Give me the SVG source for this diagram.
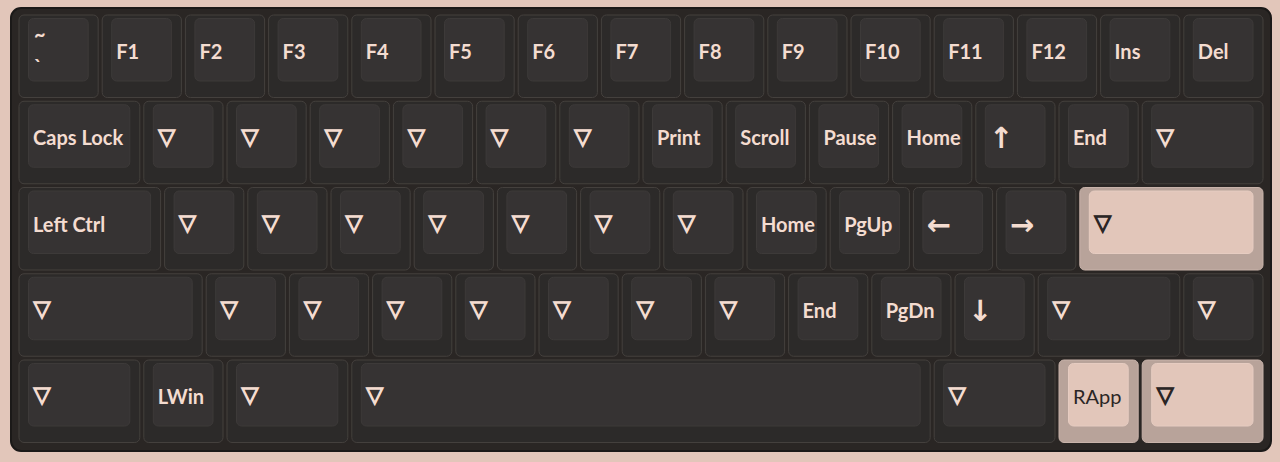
<svg xmlns="http://www.w3.org/2000/svg" width="1280" height="462" viewBox="0 0 1280 462">
<style>
.base{fill:#2c2a29;stroke:#44403d;stroke-width:1}
.top{fill:#363333;stroke:#3d3a39;stroke-width:1}
.pbase{fill:#b8a39a;stroke:#c8b3aa;stroke-width:1}
.ptop{fill:#e2c6ba;stroke:#e6ccc1;stroke-width:1}
.lb{font-family:Lato,"Open Sans",sans-serif;font-weight:700;font-size:20px;fill:#f4dcd0}
.tr{font-family:"DejaVu Sans",sans-serif;font-weight:700;font-size:22px;fill:#f4dcd0;stroke:#f4dcd0;stroke-width:1.3}
.ar{font-family:"Noto Sans","DejaVu Sans",sans-serif;font-weight:700;font-size:29px;fill:#f4dcd0}
.dk{fill:#2a2525}
.tr.dk{stroke:#2a2525}
</style>
<rect x="0" y="0" width="1280" height="462" fill="#e2c6ba"/>
<rect id="case" x="11" y="8" width="1260" height="443" rx="10" fill="#2a2624" stroke="#1b1918" stroke-width="2"/>
<g id="row1">
<g id="k-tilde"><rect class="base" x="19" y="15" width="79.2" height="82.5" rx="5"/><rect class="top" x="28.5" y="18.5" width="59.7" height="62.5" rx="5"/><text class="lb" x="34" y="42">~</text><text class="lb" x="34" y="74">`</text></g>
<g id="k-f1"><rect class="base" x="102.2" y="15" width="79.2" height="82.5" rx="5"/><rect class="top" x="111.7" y="18.5" width="59.7" height="62.5" rx="5"/><text class="lb" x="116.2" y="59">F1</text></g>
<g id="k-f2"><rect class="base" x="185.4" y="15" width="79.2" height="82.5" rx="5"/><rect class="top" x="194.9" y="18.5" width="59.7" height="62.5" rx="5"/><text class="lb" x="199.4" y="59">F2</text></g>
<g id="k-f3"><rect class="base" x="268.6" y="15" width="79.2" height="82.5" rx="5"/><rect class="top" x="278.1" y="18.5" width="59.7" height="62.5" rx="5"/><text class="lb" x="282.6" y="59">F3</text></g>
<g id="k-f4"><rect class="base" x="351.8" y="15" width="79.2" height="82.5" rx="5"/><rect class="top" x="361.3" y="18.5" width="59.7" height="62.5" rx="5"/><text class="lb" x="365.8" y="59">F4</text></g>
<g id="k-f5"><rect class="base" x="435" y="15" width="79.2" height="82.5" rx="5"/><rect class="top" x="444.5" y="18.5" width="59.7" height="62.5" rx="5"/><text class="lb" x="449" y="59">F5</text></g>
<g id="k-f6"><rect class="base" x="518.2" y="15" width="79.2" height="82.5" rx="5"/><rect class="top" x="527.7" y="18.5" width="59.7" height="62.5" rx="5"/><text class="lb" x="532.2" y="59">F6</text></g>
<g id="k-f7"><rect class="base" x="601.4" y="15" width="79.2" height="82.5" rx="5"/><rect class="top" x="610.9" y="18.5" width="59.7" height="62.5" rx="5"/><text class="lb" x="615.4" y="59">F7</text></g>
<g id="k-f8"><rect class="base" x="684.6" y="15" width="79.2" height="82.5" rx="5"/><rect class="top" x="694.1" y="18.5" width="59.7" height="62.5" rx="5"/><text class="lb" x="698.6" y="59">F8</text></g>
<g id="k-f9"><rect class="base" x="767.8" y="15" width="79.2" height="82.5" rx="5"/><rect class="top" x="777.3" y="18.5" width="59.7" height="62.5" rx="5"/><text class="lb" x="781.8" y="59">F9</text></g>
<g id="k-f10"><rect class="base" x="851" y="15" width="79.2" height="82.5" rx="5"/><rect class="top" x="860.5" y="18.5" width="59.7" height="62.5" rx="5"/><text class="lb" x="865" y="59">F10</text></g>
<g id="k-f11"><rect class="base" x="934.2" y="15" width="79.2" height="82.5" rx="5"/><rect class="top" x="943.7" y="18.5" width="59.7" height="62.5" rx="5"/><text class="lb" x="948.2" y="59">F11</text></g>
<g id="k-f12"><rect class="base" x="1017.4" y="15" width="79.2" height="82.5" rx="5"/><rect class="top" x="1026.9" y="18.5" width="59.7" height="62.5" rx="5"/><text class="lb" x="1031.4" y="59">F12</text></g>
<g id="k-ins"><rect class="base" x="1100.6" y="15" width="79.2" height="82.5" rx="5"/><rect class="top" x="1110.1" y="18.5" width="59.7" height="62.5" rx="5"/><text class="lb" x="1114.6" y="59">Ins</text></g>
<g id="k-del"><rect class="base" x="1183.8" y="15" width="79.2" height="82.5" rx="5"/><rect class="top" x="1193.3" y="18.5" width="59.7" height="62.5" rx="5"/><text class="lb" x="1197.8" y="59">Del</text></g>
</g>
<g id="row2">
<g id="k-caps"><rect class="base" x="19" y="101.25" width="120.8" height="82.5" rx="5"/><rect class="top" x="28.5" y="104.75" width="101.3" height="62.5" rx="5"/><text class="lb" x="33" y="145.25">Caps Lock</text></g>
<g id="k-r2-1"><rect class="base" x="143.8" y="101.25" width="79.2" height="82.5" rx="5"/><rect class="top" x="153.3" y="104.75" width="59.7" height="62.5" rx="5"/><text class="tr" x="158.3" y="143.5">▽</text></g>
<g id="k-r2-2"><rect class="base" x="227" y="101.25" width="79.2" height="82.5" rx="5"/><rect class="top" x="236.5" y="104.75" width="59.7" height="62.5" rx="5"/><text class="tr" x="241.5" y="143.5">▽</text></g>
<g id="k-r2-3"><rect class="base" x="310.2" y="101.25" width="79.2" height="82.5" rx="5"/><rect class="top" x="319.7" y="104.75" width="59.7" height="62.5" rx="5"/><text class="tr" x="324.7" y="143.5">▽</text></g>
<g id="k-r2-4"><rect class="base" x="393.4" y="101.25" width="79.2" height="82.5" rx="5"/><rect class="top" x="402.9" y="104.75" width="59.7" height="62.5" rx="5"/><text class="tr" x="407.9" y="143.5">▽</text></g>
<g id="k-r2-5"><rect class="base" x="476.6" y="101.25" width="79.2" height="82.5" rx="5"/><rect class="top" x="486.1" y="104.75" width="59.7" height="62.5" rx="5"/><text class="tr" x="491.1" y="143.5">▽</text></g>
<g id="k-r2-6"><rect class="base" x="559.8" y="101.25" width="79.2" height="82.5" rx="5"/><rect class="top" x="569.3" y="104.75" width="59.7" height="62.5" rx="5"/><text class="tr" x="574.3" y="143.5">▽</text></g>
<g id="k-print"><rect class="base" x="643" y="101.25" width="79.2" height="82.5" rx="5"/><rect class="top" x="652.5" y="104.75" width="59.7" height="62.5" rx="5"/><text class="lb" x="657" y="145.25">Print</text></g>
<g id="k-scroll"><rect class="base" x="726.2" y="101.25" width="79.2" height="82.5" rx="5"/><rect class="top" x="735.7" y="104.75" width="59.7" height="62.5" rx="5"/><text class="lb" x="740.2" y="145.25">Scroll</text></g>
<g id="k-pause"><rect class="base" x="809.4" y="101.25" width="79.2" height="82.5" rx="5"/><rect class="top" x="818.9" y="104.75" width="59.7" height="62.5" rx="5"/><text class="lb" x="823.4" y="145.25">Pause</text></g>
<g id="k-home1"><rect class="base" x="892.6" y="101.25" width="79.2" height="82.5" rx="5"/><rect class="top" x="902.1" y="104.75" width="59.7" height="62.5" rx="5"/><text class="lb" x="906.6" y="145.25">Home</text></g>
<g id="k-up"><rect class="base" x="975.8" y="101.25" width="79.2" height="82.5" rx="5"/><rect class="top" x="985.3" y="104.75" width="59.7" height="62.5" rx="5"/><text class="ar" x="989" y="148">↑</text></g>
<g id="k-end1"><rect class="base" x="1059" y="101.25" width="79.2" height="82.5" rx="5"/><rect class="top" x="1068.5" y="104.75" width="59.7" height="62.5" rx="5"/><text class="lb" x="1073" y="145.25">End</text></g>
<g id="k-r2-7"><rect class="base" x="1142.2" y="101.25" width="120.8" height="82.5" rx="5"/><rect class="top" x="1151.7" y="104.75" width="101.3" height="62.5" rx="5"/><text class="tr" x="1156.7" y="143.5">▽</text></g>
</g>
<g id="row3">
<g id="k-lctrl"><rect class="base" x="19" y="187.5" width="141.6" height="82.5" rx="5"/><rect class="top" x="28.5" y="191" width="122.1" height="62.5" rx="5"/><text class="lb" x="33" y="231.5">Left Ctrl</text></g>
<g id="k-r3-1"><rect class="base" x="164.6" y="187.5" width="79.2" height="82.5" rx="5"/><rect class="top" x="174.1" y="191" width="59.7" height="62.5" rx="5"/><text class="tr" x="179.1" y="229.75">▽</text></g>
<g id="k-r3-2"><rect class="base" x="247.8" y="187.5" width="79.2" height="82.5" rx="5"/><rect class="top" x="257.3" y="191" width="59.7" height="62.5" rx="5"/><text class="tr" x="262.3" y="229.75">▽</text></g>
<g id="k-r3-3"><rect class="base" x="331" y="187.5" width="79.2" height="82.5" rx="5"/><rect class="top" x="340.5" y="191" width="59.7" height="62.5" rx="5"/><text class="tr" x="345.5" y="229.75">▽</text></g>
<g id="k-r3-4"><rect class="base" x="414.2" y="187.5" width="79.2" height="82.5" rx="5"/><rect class="top" x="423.7" y="191" width="59.7" height="62.5" rx="5"/><text class="tr" x="428.7" y="229.75">▽</text></g>
<g id="k-r3-5"><rect class="base" x="497.4" y="187.5" width="79.2" height="82.5" rx="5"/><rect class="top" x="506.9" y="191" width="59.7" height="62.5" rx="5"/><text class="tr" x="511.9" y="229.75">▽</text></g>
<g id="k-r3-6"><rect class="base" x="580.6" y="187.5" width="79.2" height="82.5" rx="5"/><rect class="top" x="590.1" y="191" width="59.7" height="62.5" rx="5"/><text class="tr" x="595.1" y="229.75">▽</text></g>
<g id="k-r3-7"><rect class="base" x="663.8" y="187.5" width="79.2" height="82.5" rx="5"/><rect class="top" x="673.3" y="191" width="59.7" height="62.5" rx="5"/><text class="tr" x="678.3" y="229.75">▽</text></g>
<g id="k-home2"><rect class="base" x="747" y="187.5" width="79.2" height="82.5" rx="5"/><rect class="top" x="756.5" y="191" width="59.7" height="62.5" rx="5"/><text class="lb" x="761" y="231.5">Home</text></g>
<g id="k-pgup"><rect class="base" x="830.2" y="187.5" width="79.2" height="82.5" rx="5"/><rect class="top" x="839.7" y="191" width="59.7" height="62.5" rx="5"/><text class="lb" x="844.2" y="231.5">PgUp</text></g>
<g id="k-left"><rect class="base" x="913.4" y="187.5" width="79.2" height="82.5" rx="5"/><rect class="top" x="922.9" y="191" width="59.7" height="62.5" rx="5"/><text class="ar" x="926.4" y="235">←</text></g>
<g id="k-right"><rect class="base" x="996.6" y="187.5" width="79.2" height="82.5" rx="5"/><rect class="top" x="1006.1" y="191" width="59.7" height="62.5" rx="5"/><text class="ar" x="1010" y="235">→</text></g>
<g id="k-r3-8"><rect class="pbase" x="1079.8" y="187.5" width="183.2" height="82.5" rx="5"/><rect class="ptop" x="1089.3" y="191" width="163.7" height="62.5" rx="5"/><text class="tr dk" x="1094.3" y="229.75">▽</text></g>
</g>
<g id="row4">
<g id="k-r4-0"><rect class="base" x="19" y="273.75" width="183.2" height="82.5" rx="5"/><rect class="top" x="28.5" y="277.25" width="163.7" height="62.5" rx="5"/><text class="tr" x="33.5" y="316">▽</text></g>
<g id="k-r4-1"><rect class="base" x="206.2" y="273.75" width="79.2" height="82.5" rx="5"/><rect class="top" x="215.7" y="277.25" width="59.7" height="62.5" rx="5"/><text class="tr" x="220.7" y="316">▽</text></g>
<g id="k-r4-2"><rect class="base" x="289.4" y="273.75" width="79.2" height="82.5" rx="5"/><rect class="top" x="298.9" y="277.25" width="59.7" height="62.5" rx="5"/><text class="tr" x="303.9" y="316">▽</text></g>
<g id="k-r4-3"><rect class="base" x="372.6" y="273.75" width="79.2" height="82.5" rx="5"/><rect class="top" x="382.1" y="277.25" width="59.7" height="62.5" rx="5"/><text class="tr" x="387.1" y="316">▽</text></g>
<g id="k-r4-4"><rect class="base" x="455.8" y="273.75" width="79.2" height="82.5" rx="5"/><rect class="top" x="465.3" y="277.25" width="59.7" height="62.5" rx="5"/><text class="tr" x="470.3" y="316">▽</text></g>
<g id="k-r4-5"><rect class="base" x="539" y="273.75" width="79.2" height="82.5" rx="5"/><rect class="top" x="548.5" y="277.25" width="59.7" height="62.5" rx="5"/><text class="tr" x="553.5" y="316">▽</text></g>
<g id="k-r4-6"><rect class="base" x="622.2" y="273.75" width="79.2" height="82.5" rx="5"/><rect class="top" x="631.7" y="277.25" width="59.7" height="62.5" rx="5"/><text class="tr" x="636.7" y="316">▽</text></g>
<g id="k-r4-7"><rect class="base" x="705.4" y="273.75" width="79.2" height="82.5" rx="5"/><rect class="top" x="714.9" y="277.25" width="59.7" height="62.5" rx="5"/><text class="tr" x="719.9" y="316">▽</text></g>
<g id="k-end2"><rect class="base" x="788.6" y="273.75" width="79.2" height="82.5" rx="5"/><rect class="top" x="798.1" y="277.25" width="59.7" height="62.5" rx="5"/><text class="lb" x="802.6" y="317.75">End</text></g>
<g id="k-pgdn"><rect class="base" x="871.8" y="273.75" width="79.2" height="82.5" rx="5"/><rect class="top" x="881.3" y="277.25" width="59.7" height="62.5" rx="5"/><text class="lb" x="885.8" y="317.75">PgDn</text></g>
<g id="k-down"><rect class="base" x="955" y="273.75" width="79.2" height="82.5" rx="5"/><rect class="top" x="964.5" y="277.25" width="59.7" height="62.5" rx="5"/><text class="ar" x="968" y="321">↓</text></g>
<g id="k-r4-8"><rect class="base" x="1038.2" y="273.75" width="141.6" height="82.5" rx="5"/><rect class="top" x="1047.7" y="277.25" width="122.1" height="62.5" rx="5"/><text class="tr" x="1052.7" y="316">▽</text></g>
<g id="k-r4-9"><rect class="base" x="1183.8" y="273.75" width="79.2" height="82.5" rx="5"/><rect class="top" x="1193.3" y="277.25" width="59.7" height="62.5" rx="5"/><text class="tr" x="1198.3" y="316">▽</text></g>
</g>
<g id="row5">
<g id="k-r5-0"><rect class="base" x="19" y="360" width="120.8" height="82.5" rx="5"/><rect class="top" x="28.5" y="363.5" width="101.3" height="62.5" rx="5"/><text class="tr" x="33.5" y="402.25">▽</text></g>
<g id="k-lwin"><rect class="base" x="143.8" y="360" width="79.2" height="82.5" rx="5"/><rect class="top" x="153.3" y="363.5" width="59.7" height="62.5" rx="5"/><text class="lb" x="157.8" y="404">LWin</text></g>
<g id="k-r5-1"><rect class="base" x="227" y="360" width="120.8" height="82.5" rx="5"/><rect class="top" x="236.5" y="363.5" width="101.3" height="62.5" rx="5"/><text class="tr" x="241.5" y="402.25">▽</text></g>
<g id="k-space"><rect class="base" x="351.8" y="360" width="578.4" height="82.5" rx="5"/><rect class="top" x="361.3" y="363.5" width="558.9" height="62.5" rx="5"/><text class="tr" x="366.3" y="402.25">▽</text></g>
<g id="k-r5-2"><rect class="base" x="934.2" y="360" width="120.8" height="82.5" rx="5"/><rect class="top" x="943.7" y="363.5" width="101.3" height="62.5" rx="5"/><text class="tr" x="948.7" y="402.25">▽</text></g>
<g id="k-rapp"><rect class="pbase" x="1059" y="360" width="79.2" height="82.5" rx="5"/><rect class="ptop" x="1068.5" y="363.5" width="59.7" height="62.5" rx="5"/><text class="lb dk" x="1073" y="404" style="font-weight:400">RApp</text></g>
<g id="k-r5-3"><rect class="pbase" x="1142.2" y="360" width="120.8" height="82.5" rx="5"/><rect class="ptop" x="1151.7" y="363.5" width="101.3" height="62.5" rx="5"/><text class="tr dk" x="1156.7" y="402.25">▽</text></g>
</g>
</svg>
